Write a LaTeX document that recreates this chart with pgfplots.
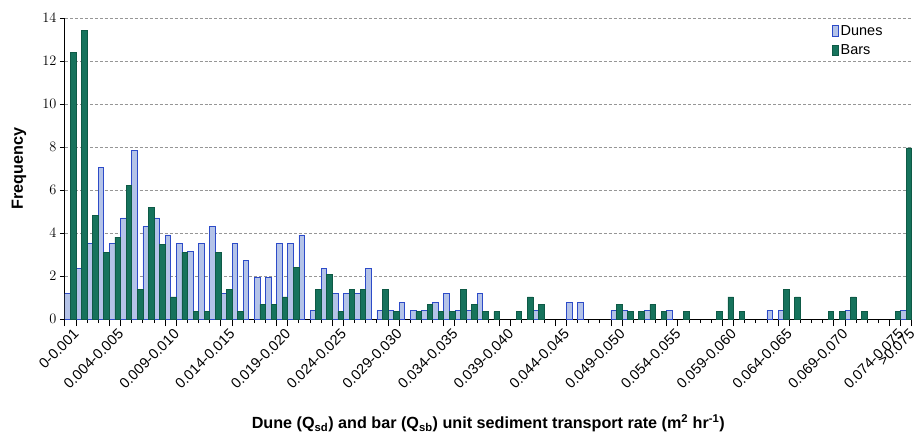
\documentclass[border=0pt]{standalone}
\usepackage{fontspec}
\setmainfont{Liberation Sans}
\usepackage{pgfplots}
\pgfplotsset{compat=1.18}

\definecolor{duneFill}{RGB}{180,195,232}
\definecolor{duneEdge}{RGB}{45,75,200}
\definecolor{barFill}{RGB}{22,115,92}
\definecolor{barEdge}{RGB}{14,90,70}
\definecolor{gridGray}{RGB}{150,150,150}

\begin{document}
\begin{tikzpicture}
\begin{axis}[
  name=ax,
  scale only axis,
  width=849pt, height=302pt,
  xmin=0, xmax=76, ymin=0, ymax=14,
  axis x line*=bottom, axis y line*=left,
  axis line style={black, line width=0.9pt},
  tick align=outside,
  major tick length=5pt,
  minor tick length=4pt,
  tick style={black, line width=0.8pt},
  ytick={0,2,...,14},
  ymajorgrids,
  major grid style={gridGray, line width=0.8pt, dash pattern=on 3pt off 2pt},
  xtick={0.5,4.5,9.5,14.5,19.5,24.5,29.5,34.5,39.5,44.5,49.5,54.5,59.5,64.5,69.5,74.5,75.5},
  xticklabels={0-0.001,0.004-0.005,0.009-0.010,0.014-0.015,0.019-0.020,0.024-0.025,0.029-0.030,0.034-0.035,0.039-0.040,0.044-0.045,0.049-0.050,0.054-0.055,0.059-0.060,0.064-0.065,0.069-0.070,0.074-0.075,{\textgreater}0.075},
  major x tick style={draw=none},
  minor xtick={0,1,...,76},
  extra x ticks={0,1,4,5,9,10,14,15,19,20,24,25,29,30,34,35,39,40,44,45,49,50,54,55,59,60,64,65,69,70,74,75,76},
  extra x tick labels={},
  extra x tick style={major x tick style={draw=black}, major tick length=7pt, grid=none},
  xticklabel style={rotate=45, anchor=north east, inner sep=1pt, yshift=-3pt, font=\fontsize{14.5}{16}\selectfont},
  yticklabel style={font=\fontsize{15}{17}\selectfont},
  xlabel={\bfseries Dune (Q\textsubscript{sd}) and bar (Q\textsubscript{sb}) unit sediment transport rate (m\textsuperscript{2} hr\textsuperscript{-1})},
  ylabel={\bfseries Frequency},
  label style={font=\fontsize{16.2}{18}\selectfont},
  xlabel style={anchor=north, yshift=-8pt},
  ylabel style={at={(axis description cs:-0.054,0.5)}, anchor=center},
  legend style={at={(0.968,0.982)}, anchor=north east, draw=none, fill=none,
    font=\fontsize{14.5}{16}\selectfont, row sep=4pt, inner sep=0pt},
  legend cell align=left,
  legend image code/.code={\draw[#1,/tikz/.cd,yshift=0pt] (0pt,-5pt) rectangle (6.5pt,5.5pt);},
]
% Dunes (left bar of each category)
\addplot[ybar, bar width=0.5, bar shift=-0.25, fill=duneFill, draw=duneEdge, line width=0.7pt] coordinates {
(0.5,1.18) (1.5,2.35) (2.5,3.53) (3.5,7.06) (4.5,3.53) (5.5,4.71) (6.5,7.84) (7.5,4.31)
(8.5,4.71) (9.5,3.92) (10.5,3.53) (11.5,3.14) (12.5,3.53) (13.5,4.31) (14.5,1.18) (15.5,3.53)
(16.5,2.75) (17.5,1.96) (18.5,1.96) (19.5,3.53) (20.5,3.53) (21.5,3.92) (22.5,0.39) (23.5,2.35)
(24.5,1.18) (25.5,1.18) (26.5,1.18) (27.5,2.35) (28.5,0.39) (29.5,0.39) (30.5,0.78) (31.5,0.39)
(32.5,0.39) (33.5,0.78) (34.5,1.18) (35.5,0.39) (36.5,0.39) (37.5,1.18) (42.5,0.39)
(45.5,0.78) (46.5,0.78) (49.5,0.39) (50.5,0.39) (52.5,0.39) (54.5,0.39) (63.5,0.39) (64.5,0.39)
(70.5,0.39) (75.5,0.39)
};
% Bars (right bar of each category)
\addplot[ybar, bar width=0.5, bar shift=0.25, fill=barFill, draw=barEdge, line width=0.7pt] coordinates {
(0.5,12.40) (1.5,13.43) (2.5,4.84) (3.5,3.11) (4.5,3.81) (5.5,6.23) (6.5,1.38) (7.5,5.19)
(8.5,3.46) (9.5,1.04) (10.5,3.11) (11.5,0.35) (12.5,0.35) (13.5,3.11) (14.5,1.38) (15.5,0.35)
(17.5,0.69) (18.5,0.69) (19.5,1.04) (20.5,2.42) (22.5,1.38) (23.5,2.08) (24.5,0.35) (25.5,1.38)
(26.5,1.38) (28.5,1.38) (29.5,0.35) (31.5,0.35) (32.5,0.69) (33.5,0.35) (34.5,0.35) (35.5,1.38)
(36.5,0.69) (37.5,0.35) (38.5,0.35) (40.5,0.35) (41.5,1.04) (42.5,0.69) (49.5,0.69) (50.5,0.35)
(51.5,0.35) (52.5,0.69) (53.5,0.35) (55.5,0.35) (58.5,0.35) (59.5,1.04) (60.5,0.35) (64.5,1.38)
(65.5,1.04) (68.5,0.35) (69.5,0.35) (70.5,1.04) (71.5,0.35) (74.5,0.35) (75.5,7.96)
};
\legend{Dunes, Bars}
\end{axis}
\path ([shift={(-65pt,-113pt)}]ax.south west) ([shift={(3pt,18pt)}]ax.north east);
\end{tikzpicture}
\end{document}
